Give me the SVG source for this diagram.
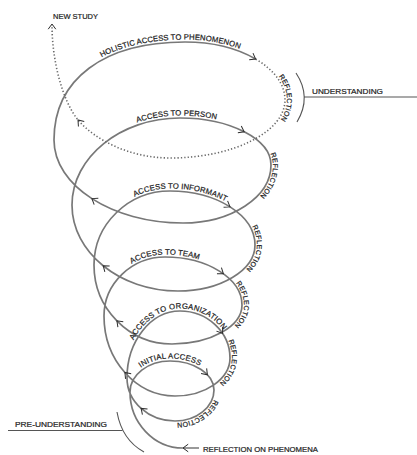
<svg xmlns="http://www.w3.org/2000/svg" xmlns:xlink="http://www.w3.org/1999/xlink" width="417" height="455" viewBox="0 0 417 455">
<style>
.sp{fill:none;stroke:#787878;stroke-width:1.7}
.dot{fill:none;stroke:#6a6a6a;stroke-width:1.6;stroke-dasharray:1.3 2.1}
.chev{fill:none;stroke:#2e2e2e;stroke-width:1}
.br{fill:none;stroke:#555;stroke-width:1.1}
.t{font-family:"Liberation Sans",Arial,Helvetica,sans-serif;fill:#1e1e1e;stroke:#1e1e1e;stroke-width:0.22}
.lbl{font-size:7.7px}
.rf{font-size:7px}
.pl{font-size:8px}
</style>
<defs>
<path id="chv" d="M-5.2,-3.8 L0,0 L-5.2,3.8"/>
<path id="lp1" d="M130,392 C130,375 148,361 170,361 C194.2,361 214,374 214,390"/>
<path id="lp2" d="M127,378 C127,341.2 150.9,311 180,311 C207.5,311 230,332.2 230,358"/>
<path id="lp3" d="M104,316 C104,283.6 131.5,257 165,257 C207.4,257 242,278.6 242,305"/>
<path id="lp4" d="M94,265 C94,224.3 128.2,191 170,191 C216.8,191 255,215.3 255,245"/>
<path id="lp5" d="M72,205 C72,157.2 120.6,118 180,118 C230,118 271,139.2 271,165"/>
<path id="lp6" d="M54,140 C54,79.2 103.8,42 185,42 C240,42 285,68.1 285,100"/>
<path id="rp1" d="M170,361 C194.2,361 214,374 214,390 C214,407 196.5,421 175,421 C148.6,421 127,401.7 127,378"/>
<path id="rp2" d="M180,311 C207.5,311 230,332.2 230,358 C230,378.9 205.3,396 175,396 C136,396 104,360 104,316"/>
<path id="rp3" d="M165,257 C207.4,257 242,278.6 242,305 C242,326.5 210.5,344 172,344 C129.1,344 94,308.5 94,265"/>
<path id="rp4" d="M170,191 C216.8,191 255,215.3 255,245 C255,270.3 220.4,291 178,291 C119.7,291 72,252.3 72,205"/>
<path id="rp5" d="M180,118 C230,118 271,139.2 271,165 C271,196.9 231.4,223 183,223 C112.1,223 54,185.7 54,140"/>
<path id="rp6" d="M185,42 C240,42 285,68.1 285,100 C285,131.9 233.3,158 170,158 C130,158 95,140 78,120"/>
</defs>

<g id="connectors">
<path class="sp" d="M199,448 L183,448 C153.9,448 130,422.8 130,392 C130,375 148,361 170,361 C194.2,361 214,374 214,390 C214,407 196.5,421 175,421 C148.6,421 127,401.7 127,378 C127,341.2 150.9,311 180,311 C207.5,311 230,332.2 230,358 C230,378.9 205.3,396 175,396 C136,396 104,360 104,316 C104,283.6 131.5,257 165,257 C207.4,257 242,278.6 242,305 C242,326.5 210.5,344 172,344 C129.1,344 94,308.5 94,265 C94,224.3 128.2,191 170,191 C216.8,191 255,215.3 255,245 C255,270.3 220.4,291 178,291 C119.7,291 72,252.3 72,205 C72,157.2 120.6,118 180,118 C230,118 271,139.2 271,165 C271,196.9 231.4,223 183,223 C112.1,223 54,185.7 54,140 C54,79.2 103.8,42 185,42 C212.5,42 237.5,48.5 255.6,59"/>
<path class="dot" d="M255.6,59 C273.75,69.55 285,84.05 285,100 C285,131.9 233.3,158 170,158 C130,158 95,140 78,120 C62,100 52,60 52,25"/>
<g class="chev">
<use xlink:href="#chv" transform="translate(183,448) rotate(180)"/>
<use xlink:href="#chv" transform="translate(141.1,408.4) rotate(-138)"/>
<use xlink:href="#chv" transform="translate(124.9,372.5) rotate(-132)"/>
<use xlink:href="#chv" transform="translate(116.9,320.8) rotate(-135)"/>
<use xlink:href="#chv" transform="translate(103.2,265.7) rotate(-141)"/>
<use xlink:href="#chv" transform="translate(91.9,198.6) rotate(-147)"/>
<use xlink:href="#chv" transform="translate(78,120) rotate(-130)"/>
<use xlink:href="#chv" transform="translate(52,24) rotate(-90)"/>
<use xlink:href="#chv" transform="translate(207.4,374.8) rotate(47)"/>
<use xlink:href="#chv" transform="translate(222.5,333.3) rotate(56)"/>
<use xlink:href="#chv" transform="translate(223.4,273.8) rotate(36)"/>
<use xlink:href="#chv" transform="translate(230,206.9) rotate(32)"/>
<use xlink:href="#chv" transform="translate(244.2,131.8) rotate(27)"/>
<use xlink:href="#chv" transform="translate(255.6,59) rotate(30)"/>
</g>
</g>

<g id="loop1">
<text class="t lbl" text-anchor="middle" dy="-2.5"><textPath xlink:href="#lp1" startOffset="56">INITIAL ACCESS</textPath></text>
<text class="t rf" text-anchor="middle" dy="-2"><textPath xlink:href="#rp1" startOffset="89">REFLECTION</textPath></text>
</g>
<g id="loop2">
<text class="t lbl" text-anchor="middle" dy="-2.5"><textPath xlink:href="#lp2" startOffset="90">ACCESS TO ORGANIZATION</textPath></text>
<text class="t rf" text-anchor="middle" dy="-2"><textPath xlink:href="#rp2" startOffset="81">REFLECTION</textPath></text>
</g>
<g id="loop3">
<text class="t lbl" text-anchor="middle" dy="-2.5"><textPath xlink:href="#lp3" startOffset="94">ACCESS TO TEAM</textPath></text>
<text class="t rf" text-anchor="middle" dy="-2"><textPath xlink:href="#rp3" startOffset="99">REFLECTION</textPath></text>
</g>
<g id="loop4">
<text class="t lbl" text-anchor="middle" dy="-2.5"><textPath xlink:href="#lp4" startOffset="128">ACCESS TO INFORMANT</textPath></text>
<text class="t rf" text-anchor="middle" dy="-2"><textPath xlink:href="#rp4" startOffset="114">REFLECTION</textPath></text>
</g>
<g id="loop5">
<text class="t lbl" text-anchor="middle" dy="-2.5"><textPath xlink:href="#lp5" startOffset="150">ACCESS TO PERSON</textPath></text>
<text class="t rf" text-anchor="middle" dy="-2"><textPath xlink:href="#rp5" startOffset="122">REFLECTION</textPath></text>
</g>
<g id="loop6">
<text class="t lbl" text-anchor="middle" dy="-2.5"><textPath xlink:href="#lp6" startOffset="169">HOLISTIC ACCESS TO PHENOMENON</textPath></text>
<text class="t rf" text-anchor="middle" dy="-2"><textPath xlink:href="#rp6" startOffset="124">REFLECTION</textPath></text>
</g>

<g id="new-study">
<text class="t pl" x="53" y="18.5" textLength="45" lengthAdjust="spacingAndGlyphs">NEW STUDY</text>
</g>
<g id="understanding">
<path class="br" d="M296,73 Q312,97 297,122"/>
<path class="br" d="M304,97 L417,97"/>
<text class="t pl" x="312" y="94" textLength="71" lengthAdjust="spacingAndGlyphs">UNDERSTANDING</text>
</g>
<g id="pre-understanding">
<path class="br" d="M117,412 Q122,440 144,452"/>
<path class="br" d="M8,430.5 L122.5,430.5"/>
<text class="t pl" x="15" y="427" textLength="92" lengthAdjust="spacingAndGlyphs">PRE-UNDERSTANDING</text>
</g>
<g id="reflection-on-phenomena">
<text class="t pl" x="203" y="451.5" textLength="115" lengthAdjust="spacingAndGlyphs">REFLECTION ON PHENOMENA</text>
</g>
</svg>
